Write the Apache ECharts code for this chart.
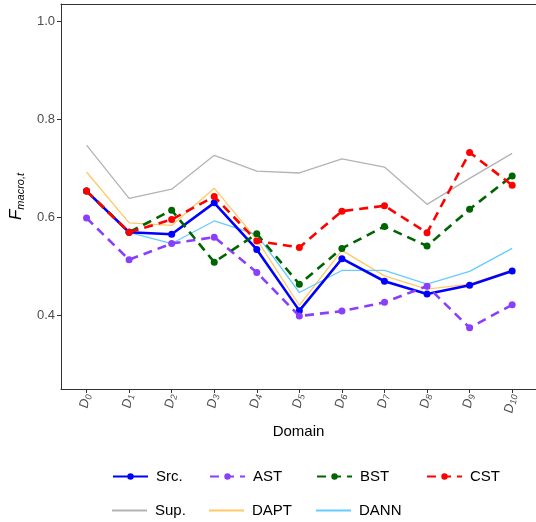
<!DOCTYPE html>
<html style="height: 100%">
<head>
<meta charset="utf-8">
<title>F macro per domain</title>
<script src="https://cdn.jsdelivr.net/npm/echarts@6/dist/echarts.min.js"></script>
</head>
<body style="height: 100%; margin: 0; background: #fff">
<div id="main" style="width: 536px; height: 522px"></div>
<script type="text/javascript">
// domains D0..D10
var domains = [0, 1, 2, 3, 4, 5, 6, 7, 8, 9, 10];

var src  = [0.654, 0.570, 0.566, 0.630, 0.535, 0.410, 0.516, 0.470, 0.444, 0.462, 0.491];
var ast  = [0.599, 0.514, 0.547, 0.560, 0.488, 0.399, 0.409, 0.427, 0.460, 0.375, 0.422];
var bst  = [0.654, 0.570, 0.615, 0.509, 0.567, 0.464, 0.537, 0.582, 0.542, 0.617, 0.685];
var cst  = [0.654, 0.570, 0.596, 0.643, 0.552, 0.539, 0.613, 0.624, 0.569, 0.733, 0.666];
var sup  = [0.748, 0.639, 0.658, 0.727, 0.695, 0.691, 0.720, 0.703, 0.627, 0.680, 0.731];
var dapt = [0.693, 0.589, 0.584, 0.660, 0.555, 0.421, 0.533, 0.481, 0.454, 0.464, 0.493];
var dann = [0.654, 0.570, 0.547, 0.593, 0.565, 0.447, 0.492, 0.492, 0.464, 0.490, 0.537];

var yTicks = [0.4, 0.6, 0.8, 1.0];

function pairs(arr) {
	var out = [];
	for (var i = 0; i < domains.length; i++) {
		out.push([domains[i], arr[i]]);
	}
	return out;
}

var myChart = echarts.init(document.getElementById('main'), null, {renderer: 'canvas'});

var solid = function (name, data, color, z) {
	return {
		name: name, type: 'line', data: pairs(data), z: z,
		symbol: 'none', silent: true,
		lineStyle: {color: color, width: 1.3, type: 'solid'},
		itemStyle: {color: color}
	};
};
var marked = function (name, data, color, dashed, z) {
	return {
		name: name, type: 'line', data: pairs(data), z: z,
		symbol: 'circle', symbolSize: 7, showSymbol: true, silent: true,
		lineStyle: {color: color, width: 2.6, type: dashed ? [9, 6] : 'solid'},
		itemStyle: {color: color}
	};
};

var legendFont = {fontSize: 15, color: '#000', fontFamily: 'Liberation Sans, Arial', padding: [0, 0, 0, 3]};

// one legend per key so the columns line up like the original
function legendItem(name, left, top) {
	return {
		data: [name], left: left, top: top, orient: 'horizontal',
		itemWidth: 35, itemHeight: 8, selectedMode: false,
		textStyle: legendFont
	};
}
// plain line key, no dot
function legendLine(name, color, left, top) {
	return {
		data: [{name: name, icon: 'rect', itemStyle: {color: color}}],
		left: left, top: top, orient: 'horizontal',
		itemWidth: 35, itemHeight: 2, selectedMode: false,
		textStyle: legendFont
	};
}

var option = {
	backgroundColor: '#FFFFFF',
	animation: false,
	grid: {left: 61, right: 0, top: 4, bottom: 133, containLabel: false},
	legend: [
		legendItem('Src.', 107, 464),
		legendItem('AST', 204, 464),
		legendItem('BST', 311, 464),
		legendItem('CST', 421, 464),
		legendLine('Sup.', '#B3B3B3', 107, 498),
		legendLine('DAPT', '#FFC966', 204, 498),
		legendLine('DANN', '#66CCFF', 311, 498)
	],
	xAxis: [{
		type: 'value', min: -0.6, max: 10.56, position: 'bottom',
		name: 'Domain', nameLocation: 'middle', nameGap: 35,
		nameTextStyle: {fontSize: 15, color: '#000', fontFamily: 'Liberation Sans, Arial'},
		axisLine: {show: true, onZero: false, lineStyle: {color: '#333', width: 1}},
		axisTick: {show: true, length: 4, customValues: domains, lineStyle: {color: '#333'}},
		splitLine: {show: false},
		axisLabel: {
			customValues: domains, rotate: 80, margin: 5,
			formatter: function (v) { return '{d|D}{s|' + v + '}'; },
			rich: {
				d: {fontSize: 13, fontStyle: 'italic', color: '#4D4D4D', fontFamily: 'Liberation Sans, Arial'},
				s: {fontSize: 9, fontStyle: 'italic', color: '#4D4D4D', fontFamily: 'Liberation Sans, Arial', padding: [6, 0, 0, 0]}
			}
		}
	}, {
		type: 'value', min: -0.6, max: 10.56, position: 'top',
		axisLine: {show: true, onZero: false, lineStyle: {color: '#333', width: 1}},
		axisTick: {show: false}, axisLabel: {show: false}, splitLine: {show: false}
	}],
	yAxis: {
		type: 'value', min: 0.25, max: 1.036,
		name: '{f|F}{s|macro,t}', nameLocation: 'middle', nameGap: 30,
		nameTextStyle: {
			rich: {
				f: {fontSize: 17, fontStyle: 'italic', color: '#000', fontFamily: 'Liberation Sans, Arial'},
				s: {fontSize: 11, fontStyle: 'italic', color: '#000', fontFamily: 'Liberation Sans, Arial', padding: [8, 0, 0, 0]}
			}
		},
		axisLine: {show: true, onZero: false, lineStyle: {color: '#333', width: 1}},
		axisTick: {show: true, length: 4, customValues: yTicks, lineStyle: {color: '#333'}},
		splitLine: {show: false},
		axisLabel: {
			customValues: yTicks, margin: 6, fontSize: 13, color: '#4D4D4D',
			fontFamily: 'Liberation Sans, Arial',
			formatter: function (v) { return v.toFixed(1); }
		}
	},
	series: [
		solid('Sup.', sup, '#B3B3B3', 1),
		solid('DAPT', dapt, '#FFC966', 2),
		solid('DANN', dann, '#66CCFF', 3),
		marked('Src.', src, '#0000FF', false, 4),
		marked('AST', ast, '#8A3FFC', true, 5),
		marked('BST', bst, '#006400', true, 6),
		marked('CST', cst, '#FF0000', true, 7)
	]
};

myChart.setOption(option);
</script>
</body>
</html>
